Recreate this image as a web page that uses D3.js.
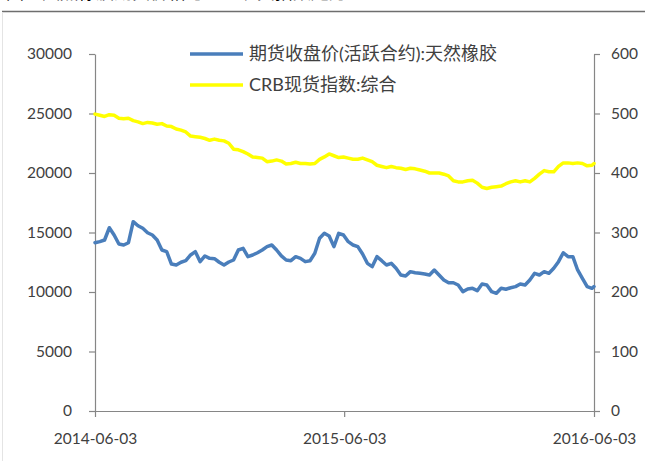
<!DOCTYPE html>
<html>
<head>
<meta charset="utf-8">
<script src="https://cdn.jsdelivr.net/npm/d3@7"></script>
<style>
    html, body { margin: 0; padding: 0; background: #fff; }
    svg { display: block; }
    .tick text { font-family: Lato, "Noto Sans CJK SC", sans-serif; font-size: 15.5px; fill: #404040; }
    .legend-text { font-family: Lato, "Noto Sans CJK SC", sans-serif; font-size: 18px; fill: #404040; }
</style>
</head>
<body>
<svg id="chart"></svg>
<script>
// weekly readings, 2014-06-03 .. 2016-06-03 (last value = 2016-06-03)
const rubberPrice = [
    14140, 14230, 14370, 15400, 14790, 14030, 13950, 14140, 15910, 15570,
    15350, 14980, 14790, 14370, 13530, 13390, 12350, 12270, 12500, 12630,
    13110, 13390, 12550, 13030, 12830, 12800, 12500, 12270, 12520, 12690,
    13530, 13670, 12970, 13110, 13300, 13530, 13810, 13950, 13530, 13030,
    12690, 12630, 12970, 12830, 12550, 12630, 13250, 14510, 14930, 14710,
    13810, 14930, 14790, 14230, 13950, 13810, 13190, 12410, 12130, 12970,
    12630, 12270, 12410, 11990, 11430, 11340, 11710, 11620, 11570, 11510,
    11430, 11850, 11430, 11010, 10780, 10780, 10590, 10030, 10250, 10310,
    10110, 10670, 10590, 10030, 9890, 10310, 10230, 10360, 10450, 10670,
    10590, 11010, 11570, 11430, 11710, 11570, 11990, 12550, 13300, 12970,
    12970, 11850, 11150, 10450, 10310, 10460
];

const crbIndex = [
    499, 497, 495, 498, 497, 492, 491, 492, 488, 486,
    483, 485, 484, 482, 483, 479, 478, 474, 472, 469,
    462, 461, 460, 458, 455, 457, 455, 454, 450, 440,
    439, 436, 432, 427, 426, 425, 419, 420, 422, 420,
    415, 416, 418, 416, 416, 415, 416, 423, 427, 432,
    429, 426, 427, 425, 423, 423, 425, 422, 419, 413,
    411, 409, 411, 409, 408, 406, 408, 407, 405, 403,
    400, 400, 400, 398, 395, 387, 385, 385, 387, 388,
    383, 376, 374, 376, 377, 378, 382, 385, 387, 385,
    387, 385, 391, 398, 404, 402, 402, 411, 417, 417,
    416, 417, 416, 412, 413, 416
];

const seriesNames = ["期货收盘价(活跃合约):天然橡胶", "CRB现货指数:综合"];
const seriesColors = ["#4A7EBB", "#FFFF00"];
const xTickLabels = ["2014-06-03", "2015-06-03", "2016-06-03"];
const leftTicks = [0, 5000, 10000, 15000, 20000, 25000, 30000];
const rightTicks = [0, 100, 200, 300, 400, 500, 600];
const titleText = "图：天然橡胶期货价格与CRB现货指数走势";

const config = {
    width: 645,
    height: 461,
    margin: { top: 54, right: 51, bottom: 50, left: 95 }
};

const parseDate = d3.timeParse("%Y-%m-%d");
const startDate = parseDate(xTickLabels[0]);
const endDate = parseDate(xTickLabels[2]);

// weekly dates, plus the final day
const dates = d3.timeDay.range(startDate, endDate, 7);
dates.push(endDate);

const svg = d3.select("#chart")
    .attr("width", config.width)
    .attr("height", config.height);

svg.append("rect")
    .attr("width", config.width)
    .attr("height", config.height)
    .attr("fill", "#fff");

// title is cut off by the top edge in the source picture
svg.append("text")
    .attr("x", 6)
    .attr("y", -1)
    .style("font-family", "\"Noto Sans CJK SC\", sans-serif")
    .style("font-size", "18px")
    .style("fill", "#000")
    .text(titleText);

svg.append("line")
    .attr("x1", 2).attr("x2", config.width)
    .attr("y1", 11.5).attr("y2", 11.5)
    .attr("stroke", "#6e6e6e")
    .attr("stroke-width", 1.5);

svg.append("line")
    .attr("x1", 2.5).attr("x2", 2.5)
    .attr("y1", 12).attr("y2", config.height)
    .attr("stroke", "#e4e4e4")
    .attr("stroke-width", 1);

const innerLeft = config.margin.left;
const innerRight = config.width - config.margin.right;
const innerTop = config.margin.top;
const innerBottom = config.height - config.margin.bottom;

const xScale = d3.scaleTime()
    .domain([startDate, endDate])
    .range([innerLeft, innerRight]);

const yLeft = d3.scaleLinear()
    .domain([0, 30000])
    .range([innerBottom, innerTop]);

const yRight = d3.scaleLinear()
    .domain([0, 600])
    .range([innerBottom, innerTop]);

// axes
const xAxis = d3.axisBottom(xScale)
    .tickValues(xTickLabels.map(parseDate))
    .tickFormat(d3.timeFormat("%Y-%m-%d"))
    .tickSize(6)
    .tickPadding(16);

const leftAxis = d3.axisLeft(yLeft)
    .tickValues(leftTicks)
    .tickFormat(d3.format("d"))
    .tickSize(6)
    .tickPadding(17);

const rightAxis = d3.axisRight(yRight)
    .tickValues(rightTicks)
    .tickFormat(d3.format("d"))
    .tickSize(6)
    .tickPadding(11);

function styleAxis(g) {
    g.select(".domain").attr("stroke", "#868686").attr("stroke-width", 1.2);
    g.selectAll(".tick line").attr("stroke", "#868686").attr("stroke-width", 1.2);
}

svg.append("g")
    .attr("class", "axis y-left")
    .attr("transform", `translate(${innerLeft},0)`)
    .call(leftAxis.tickSizeOuter(0))
    .call(styleAxis);

svg.append("g")
    .attr("class", "axis y-right")
    .attr("transform", `translate(${innerRight},0)`)
    .call(rightAxis.tickSizeOuter(0))
    .call(styleAxis);

svg.append("g")
    .attr("class", "axis x-axis")
    .attr("transform", `translate(0,${innerBottom})`)
    .call(xAxis.tickSizeOuter(0))
    .call(styleAxis);

// lines
const crbLine = d3.line()
    .x((d, i) => xScale(dates[i]))
    .y(d => yRight(d));

const rubberLine = d3.line()
    .x((d, i) => xScale(dates[i]))
    .y(d => yLeft(d));

svg.append("path")
    .datum(crbIndex)
    .attr("fill", "none")
    .attr("stroke", seriesColors[1])
    .attr("stroke-width", 3.5)
    .attr("stroke-linejoin", "round")
    .attr("stroke-linecap", "round")
    .attr("d", crbLine);

svg.append("path")
    .datum(rubberPrice)
    .attr("fill", "none")
    .attr("stroke", seriesColors[0])
    .attr("stroke-width", 3.5)
    .attr("stroke-linejoin", "round")
    .attr("stroke-linecap", "round")
    .attr("d", rubberLine);

// legend
const legend = svg.append("g")
    .attr("class", "legend-g")
    .attr("transform", "translate(190,54)");

const legendItems = legend.selectAll(".legend-item")
    .data(seriesNames)
    .enter()
    .append("g")
    .attr("class", "legend-item")
    .attr("transform", (d, i) => `translate(0,${i * 31})`);

legendItems.append("line")
    .attr("x1", 0).attr("x2", 53)
    .attr("y1", 0).attr("y2", 0)
    .attr("stroke", (d, i) => seriesColors[i])
    .attr("stroke-width", 3.5);

legendItems.append("text")
    .attr("class", "legend-text")
    .attr("x", 59)
    .attr("dy", "0.36em")
    .text(d => d);
</script>
</body>
</html>
